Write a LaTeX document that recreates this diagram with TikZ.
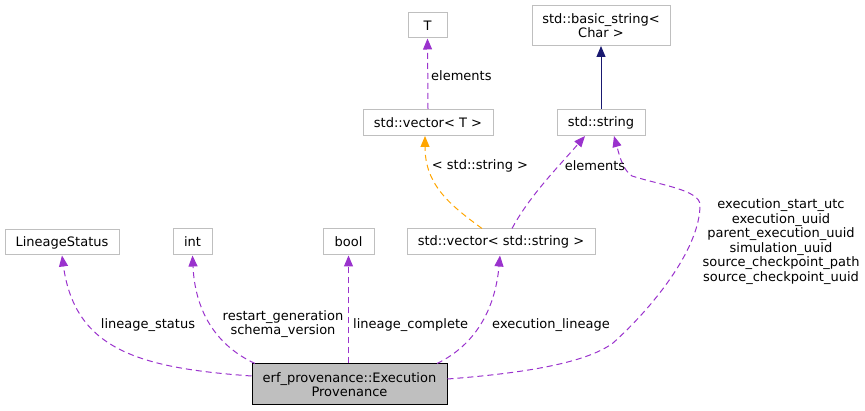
\documentclass[tikz,border=0pt]{standalone}
\usepackage{fontspec}
\setmainfont{DejaVu Sans}
\usetikzlibrary{arrows.meta}
\definecolor{edgegrey}{HTML}{BFBFBF}
\definecolor{purp}{HTML}{9A32CD}
\definecolor{orng}{HTML}{FFA500}
\definecolor{navyb}{HTML}{191970}
\begin{document}
\begin{tikzpicture}[x=1pt,y=-1pt,
  font=\fontsize{13}{14.6}\selectfont,
  cls/.style={draw=edgegrey,fill=white,line width=1pt,inner sep=0pt,align=center},
  main/.style={draw=black,fill=edgegrey,line width=1pt,inner sep=0pt,align=center},
  tip/.style={-{Triangle[length=11pt,width=9pt]}},
  mem/.style={tip,draw=purp,dash pattern=on 6pt off 4pt,line width=1pt},
  tmpl/.style={tip,draw=orng,dash pattern=on 6pt off 4pt,line width=1pt},
  inh/.style={tip,draw=navyb,line width=1pt},
  lbl/.style={inner sep=0pt,align=center}]
\useasboundingbox (0,0) rectangle (865,411);
\node[cls,minimum width=114pt,minimum height=25pt] (ls) at (62,242.5) {LineageStatus};
\node[cls,minimum width=39pt,minimum height=26pt] (int) at (192.5,242) {int};
\node[cls,minimum width=51pt,minimum height=26pt] (bool) at (348.5,242) {bool};
\node[cls,minimum width=188pt,minimum height=26pt] (vs) at (501,242) {std::vector< std::string >};
\node[main,minimum width=195pt,minimum height=41pt] (ex) at (349.5,384.5) {erf\_provenance::Execution\\Provenance};
\node[cls,minimum width=39pt,minimum height=25pt] (T) at (427.5,25.5) {T};
\node[cls,minimum width=130pt,minimum height=26pt] (vT) at (428,122.5) {std::vector< T >};
\node[cls,minimum width=138pt,minimum height=40pt] (bs) at (601,25.5) {std::basic\_string<\\Char >};
\node[cls,minimum width=88pt,minimum height=26pt] (str) at (601,122.5) {std::string};

\draw[inh] (str.north) -- (bs.south);
\draw[mem] (vT.north) -- (T.south);
\draw[tmpl] (vs.north -| 482,0) .. controls (450,205) and (425,185) .. (vT.south -| 425,0);
\draw[mem] (vs.north -| 512,0) .. controls (530,195) and (560,165) .. (str.south -| 585,0);
\draw[mem] (ex.west |- 0,376) .. controls (140,368) and (75,350) .. (ls.south);
\draw[mem] (ex.north -| 255,0) .. controls (215,345) and (195,310) .. (int.south);
\draw[mem] (ex.north -| 348.5,0) -- (bool.south);
\draw[mem] (ex.north -| 437,0) .. controls (475,345) and (495,310) .. (vs.south -| 500,0);
\draw[mem] (ex.east |- 0,379) .. controls (540,372) and (590,360) .. (613,343)
  .. controls (650,310) and (700,250) .. (700,205)
  .. controls (700,190) and (660,185) .. (632,176)
  .. controls (622,170) and (618,150) .. (str.south -| 614,0);

\node[lbl,anchor=west] (l1) at (431,76) {elements};
\node[lbl] (l2) at (480,166) {< std::string >};
\node[lbl] (l3) at (595,166) {elements};
\node[lbl] (l4) at (781,241.5) {execution\_start\_utc\\execution\_uuid\\parent\_execution\_uuid\\simulation\_uuid\\source\_checkpoint\_path\\source\_checkpoint\_uuid};
\node[lbl] (l5) at (148,325) {lineage\_status};
\node[lbl] (l6) at (283,324) {restart\_generation\\schema\_version};
\node[lbl,anchor=west] (l7) at (353,325) {lineage\_complete};
\node[lbl] (l8) at (551,325) {execution\_lineage};
\end{tikzpicture}
\end{document}
